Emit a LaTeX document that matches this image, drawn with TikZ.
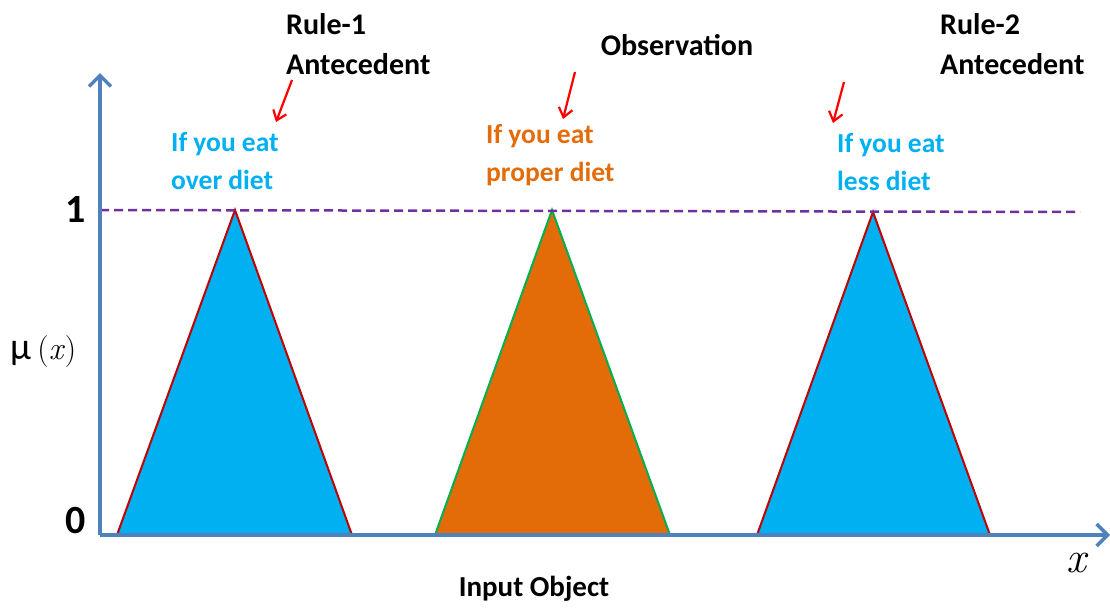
\documentclass[tikz,border=0pt]{standalone}
\usepackage{fontspec}
\setmainfont{Carlito}
\newfontfamily\lmr{Latin Modern Roman}
\usetikzlibrary{arrows.meta}
\definecolor{axblue}{HTML}{4F81BD}
\definecolor{cyanf}{HTML}{00B0F0}
\definecolor{orangef}{HTML}{E36C09}
\definecolor{purp}{HTML}{7030A0}
\definecolor{redb}{HTML}{C00000}
\definecolor{greenb}{HTML}{00B050}
\definecolor{arrred}{HTML}{FF0000}
\tikzset{
  axis/.style={draw=axblue, line width=3.5pt, -{Straight Barb[length=11pt,width=22pt,line width=3.5pt]}},
  lbl/.style={font=\bfseries\fontsize{27.5}{38}\selectfont, align=left, inner sep=0pt},
  toplbl/.style={font=\bfseries\fontsize{30}{40}\selectfont, align=left, inner sep=0pt, text=black},
  redarr/.style={draw=arrred, line width=2.2pt, -{Straight Barb[length=9pt,width=14pt,line width=2.2pt]}},
  tri/.style={line width=2pt, line join=miter},
}
\begin{document}
\begin{tikzpicture}[x=1pt,y=-1pt]
\useasboundingbox (0,0) rectangle (1110,611);
% triangles
\draw[tri, fill=cyanf, draw=redb] (117,535) -- (235,210) -- (352,535);
\draw[tri, fill=orangef, draw=greenb] (435,535) -- (552,210) -- (670,535);
\draw[tri, fill=cyanf, draw=redb] (757,535) -- (873,212) -- (990,535);
% dashed level line
\coordinate (d0) at (100,210);
\coordinate (d1) at (1080,212);
\draw[purp, line width=2.5pt, dash pattern=on 9pt off 5pt] (d0) -- (d1);
% axes
\coordinate (o) at (100,535);
\coordinate (ytip) at (100,73);
\coordinate (xtip) at (1110,535);
\draw[axis] (o) -- (ytip);
\draw[axis] (o) -- (xtip);
% axis labels
\node[inner sep=0pt, font=\bfseries\fontsize{40}{40}\selectfont] (one) at (76,210) {1};
\node[inner sep=0pt, font=\bfseries\fontsize{40}{40}\selectfont] (zero) at (76,521) {0};
\node[inner sep=0pt, anchor=west] (mu) at (10,352) {\fontsize{38}{38}\selectfont μ\,{\lmr\fontsize{32}{32}\selectfont(\textit{x})}};
\node[inner sep=0pt] (xl) at (1076,563) {\lmr\itshape\fontsize{44}{44}\selectfont x};
\node[lbl, font=\bfseries\fontsize{29}{38}\selectfont, text=black] (inp) at (534,589) {Input Object};
% condition labels
\node[lbl, text=cyanf, anchor=west] (c1) at (171,161) {If you eat\\over diet};
\node[lbl, text=orangef, anchor=west] (c2) at (486,155) {If you eat\\proper diet};
\node[lbl, text=cyanf, anchor=west] (c3) at (837,162) {If you eat\\less diet};
% top labels
\node[toplbl, anchor=west] (r1) at (286,44) {Rule-1\\Antecedent};
\node[toplbl] (obs) at (677,45) {Observation};
\node[toplbl, anchor=west] (r2) at (940,44) {Rule-2\\Antecedent};
% red arrows
\coordinate (a1s) at (292,80); \coordinate (a1e) at (276,122);
\coordinate (a2s) at (575,72); \coordinate (a2e) at (563,119);
\coordinate (a3s) at (844,82); \coordinate (a3e) at (833,123);
\draw[redarr] (a1s) -- (a1e);
\draw[redarr] (a2s) -- (a2e);
\draw[redarr] (a3s) -- (a3e);
\end{tikzpicture}
\end{document}
